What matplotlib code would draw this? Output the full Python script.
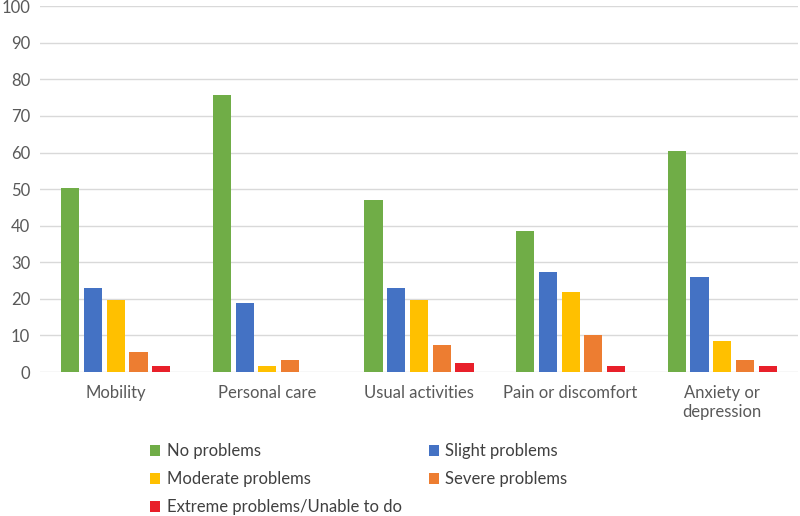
import numpy as np
import matplotlib.pyplot as plt

plt.rcParams['font.family'] = ['Lato', 'DejaVu Sans']

categories = ['Mobility', 'Personal care', 'Usual activities', 'Pain or discomfort', 'Anxiety or\ndepression']
series = ['No problems', 'Slight problems', 'Moderate problems', 'Severe problems',
          'Extreme problems/Unable to do']
no_problems = [50.2, 75.6, 47.0, 38.5, 60.3]
slight = [22.9, 18.8, 22.9, 27.4, 26.0]
moderate = [19.6, 1.6, 19.6, 22.0, 8.4]
severe = [5.5, 3.3, 7.5, 10.1, 3.3]
extreme = [1.6, 0.0, 2.5, 1.6, 1.6]
colors = ['#70AD47', '#4472C4', '#FFC000', '#ED7D31', '#E8202A']

fig = plt.figure(figsize=(8, 5.16), dpi=100)
ax = fig.add_axes([0.05, 0.279, 0.9475, 0.709])

x = np.arange(len(categories))
step = 0.15
w = 0.12
bars = []
for i, (vals, c) in enumerate(zip([no_problems, slight, moderate, severe, extreme], colors)):
    b = ax.bar(x + (i - 2) * step, vals, width=w, color=c, label=series[i], zorder=3)
    bars.append(b)

ax.set_xlim(-0.5, len(categories) - 0.5)
ax.set_ylim(0, 100)
ax.set_yticks(range(0, 101, 10))
ax.grid(axis='y', color='#D9D9D9', linewidth=1, zorder=0)
for s in ax.spines.values():
    s.set_visible(False)
ax.set_xticks(x)
ax.set_xticklabels(categories, fontsize=12, color='#404040', va='top', linespacing=1.25)
ax.tick_params(axis='both', length=0, labelsize=12, colors='#595959')
ax.tick_params(axis='x', pad=9)
ax.tick_params(axis='y', pad=7)

order = [0, 2, 4, 1, 3]
fig.legend([bars[k] for k in order], [series[k] for k in order], ncol=2,
           loc='upper left', bbox_to_anchor=(0.169, 0.170), frameon=False,
           fontsize=12, handlelength=0.6, handleheight=0.6, handletextpad=0.4,
           columnspacing=1.6, labelspacing=0.72, labelcolor='#404040')

plt.savefig('out.png')
